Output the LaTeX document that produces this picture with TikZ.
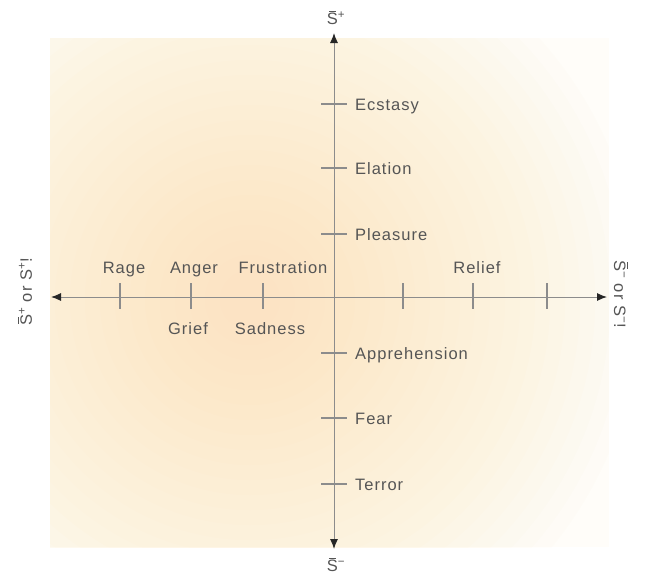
\documentclass[tikz,border=0pt]{standalone}
\usepackage{fontspec}
\setmainfont{Liberation Sans}
\newfontfamily\lblfont[LetterSpace=6]{Liberation Sans}
\usetikzlibrary{arrows.meta}
\definecolor{glowcore}{RGB}{252,226,176}
\definecolor{glowout}{RGB}{255,253,249}
\definecolor{axisgray}{RGB}{140,140,140}
\definecolor{textgray}{RGB}{85,85,85}
% S with a bar over it
\newcommand{\Sbar}{{\setbox0\hbox{S}%
  \rlap{\makebox[\wd0]{\raisebox{\dimexpr\ht0+1.6pt}{\rule{0.62\wd0}{0.9pt}}}}S}}
\tikzset{
  axisline/.style={draw=axisgray, line width=1pt,
    {Latex[length=10pt,width=8pt,color=black!85]}-{Latex[length=10pt,width=8pt,color=black!85]}},
  tickline/.style={draw=axisgray, line width=1.1pt},
  emo/.style={font=\lblfont\fontsize{16.5}{19}\selectfont, text=textgray, inner sep=0pt},
  axislbl/.style={emo},
  glowlayer/.style={fill=glowcore, fill opacity=0.04},
}
\begin{document}
\begin{tikzpicture}[x=1pt,y=-1pt]
\useasboundingbox (0,0) rectangle (646,579);
% warm glow behind the axes: stacked translucent discs
\fill[glowout] (50,38) rectangle (609,547);
\begin{scope}
  \clip (50,38) rectangle (609,547);
  \foreach \r in {30,45,...,390} {
    \fill[glowlayer] (250,300) circle (\r pt);
  }
\end{scope}

% axes
\coordinate (O) at (334,297);
\coordinate (up) at (334,33);
\coordinate (down) at (334,549);
\coordinate (west) at (51,297);
\coordinate (east) at (607,297);
\draw[axisline] (down) -- (up);
\draw[axisline] (west) -- (east);

% axis end labels
\node[axislbl] (splus) at (336,18) {\Sbar\textsuperscript{+}};
\node[axislbl] (sminus) at (336,565) {\Sbar\textsuperscript{−}};
\node[axislbl, rotate=90] (lefttxt) at (25,292) {\Sbar\textsuperscript{+} or S\textsuperscript{+}!};
\node[axislbl, rotate=-90] (righttxt) at (621,294) {\Sbar\textsuperscript{−} or S\textsuperscript{−}!};

% ticks on the horizontal axis
\foreach \x [count=\i] in {120,191,263,403,473,547} {
  \coordinate (ht\i a) at (\x,283);
  \coordinate (ht\i b) at (\x,309);
  \draw[tickline] (ht\i a) -- (ht\i b);
}
% ticks on the vertical axis
\foreach \y [count=\i] in {104,168,234,353,418,484} {
  \coordinate (vt\i a) at (321,\y);
  \coordinate (vt\i b) at (347,\y);
  \draw[tickline] (vt\i a) -- (vt\i b);
}

% emotions along the vertical axis
\node[emo, anchor=base west] (ecstasy) at (355,110) {Ecstasy};
\node[emo, anchor=base west] (elation) at (355,174) {Elation};
\node[emo, anchor=base west] (pleasure) at (355,240) {Pleasure};
\node[emo, anchor=base west] (apprehension) at (355,359) {Apprehension};
\node[emo, anchor=base west] (fear) at (355,424) {Fear};
\node[emo, anchor=base west] (terror) at (355,490) {Terror};

% emotions along the horizontal axis
\node[emo, anchor=base] (rage) at (124,273) {Rage};
\node[emo, anchor=base] (anger) at (194,273) {Anger};
\node[emo, anchor=base] (frustration) at (283,273) {Frustration};
\node[emo, anchor=base] (relief) at (477,273) {Relief};
\node[emo, anchor=base] (grief) at (188,334) {Grief};
\node[emo, anchor=base] (sadness) at (270,334) {Sadness};
\end{tikzpicture}
\end{document}
